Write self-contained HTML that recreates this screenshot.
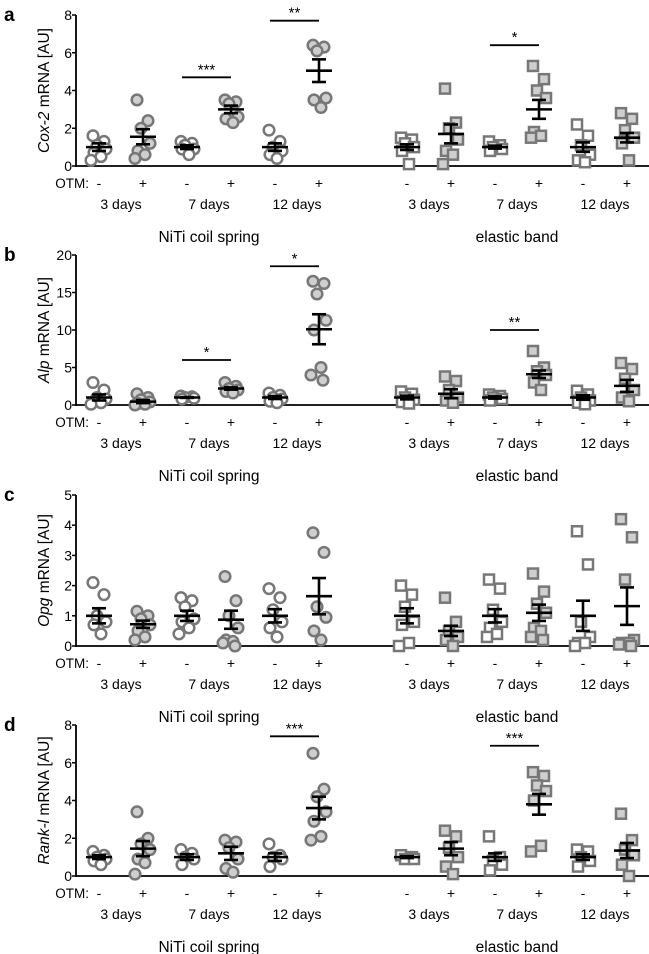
<!DOCTYPE html>
<html><head><meta charset="utf-8"><style>
html,body{margin:0;padding:0;background:#fff}
svg{display:block;font-family:"Liberation Sans",Arial,sans-serif}
</style></head><body>
<svg id="fig" width="649" height="954" viewBox="0 0 649 954" xmlns="http://www.w3.org/2000/svg"></svg>
<script>
const groupLabels = ["3 days","7 days","12 days"];
const otmLabels = ["-","+","-","+","-","+","-","+","-","+","-","+"];
const deviceLabels = ["NiTi coil spring","elastic band"];

const coxPoints = [
 [1.6,1.3,1.1,0.9,0.7,0.5,0.3],[3.5,2.4,2.0,1.2,0.8,0.6,0.4],[1.3,1.2,1.1,0.9,0.9,0.6],
 [3.5,3.4,3.3,2.6,2.5,2.3],[1.9,1.3,1.0,0.8,0.6,0.4],[6.4,6.3,6.1,3.6,3.5,3.1],
 [1.5,1.4,1.2,1.0,0.8,0.1],[4.1,2.3,2.0,1.4,0.8,0.6,0.1],[1.3,1.1,1.0,0.9,0.8],
 [5.3,4.6,4.0,3.6,1.8,1.6,1.5],[2.2,1.6,1.1,0.6,0.3,0.2],[2.8,2.5,1.9,1.5,1.2,0.3]];
const coxMean = [1.0,1.55,1.0,3.0,1.0,5.05,1.0,1.7,1.0,3.0,1.0,1.5];
const coxSem = [0.2,0.4,0.1,0.2,0.2,0.6,0.15,0.5,0.08,0.5,0.25,0.25];
const coxSig = [[2,3,4.7,"***"],[4,5,7.7,"**"],[8,9,6.4,"*"]];

const alpPoints = [
 [3.0,2.0,1.0,0.8,0.5,0.3,0.1],[1.5,1.0,0.7,0.4,0.2,0.1,0.0],[1.2,1.1,1.0,0.9,0.8],
 [3.0,2.5,2.2,2.0,1.8,1.6],[1.6,1.3,1.0,0.8,0.5,0.3],[16.5,16.2,14.8,11.3,10.0,5.0,4.0,3.3],
 [1.8,1.5,1.0,0.7,0.4,0.2],[3.8,3.2,2.0,1.0,0.6,0.3],[1.4,1.2,1.0,0.8,0.6],
 [7.2,5.0,4.5,4.0,3.0,2.0],[1.9,1.4,1.0,0.6,0.3,0.1],[5.6,4.8,3.5,2.0,1.0,0.5]];
const alpMean = [1.0,0.45,1.0,2.2,1.0,10.1,1.0,1.5,1.0,4.1,1.0,2.55];
const alpSem = [0.4,0.2,0.05,0.15,0.2,2.0,0.25,0.6,0.15,0.5,0.3,0.8];
const alpSig = [[2,3,6,"*"],[4,5,18.5,"*"],[8,9,10,"**"]];

const opgPoints = [
 [2.1,1.7,1.0,0.8,0.7,0.4],[1.15,1.0,0.9,0.7,0.5,0.3,0.2],[1.6,1.5,1.3,0.9,0.8,0.6,0.4],
 [2.3,1.5,1.0,0.6,0.2,0.15,0.1,0.0],[1.9,1.6,1.2,0.8,0.6,0.3],[3.75,3.1,1.3,0.95,0.5,0.2],
 [2.0,1.7,1.3,0.8,0.7,0.1,0.0],[1.6,0.8,0.5,0.3,0.2,0.0],[2.2,1.9,1.2,0.8,0.6,0.4,0.3],
 [2.4,1.8,1.4,1.1,0.6,0.5,0.3,0.2],[3.8,2.7,0.8,0.3,0.1,0.1,0.0],[4.2,3.6,2.2,0.2,0.1,0.1,0.05,0.0]];
const opgMean = [1.0,0.72,1.0,0.87,1.0,1.65,1.0,0.5,1.0,1.1,1.0,1.32];
const opgSem = [0.25,0.12,0.17,0.3,0.22,0.6,0.25,0.17,0.22,0.27,0.5,0.62];
const opgSig = [];

const rankPoints = [
 [1.3,1.1,1.0,0.9,0.8,0.6],[3.4,2.0,1.7,1.4,0.9,0.7,0.1],[1.4,1.2,1.0,0.9,0.6],
 [1.9,1.8,1.5,0.9,0.4,0.2],[1.7,1.1,1.0,0.9,0.5],[6.5,4.6,4.2,3.4,2.9,2.1,1.9],
 [1.1,1.0,0.9,0.9],[2.4,2.1,1.5,1.0,0.5,0.1],[2.1,1.0,0.8,0.6,0.3],
 [5.5,5.3,4.8,4.5,4.0,1.6,1.3],[1.4,1.3,1.0,0.8,0.5],[3.3,1.9,1.4,1.1,0.6,0.0]];
const rankMean = [1.0,1.45,1.0,1.2,1.0,3.6,1.0,1.45,1.0,3.8,1.0,1.35];
const rankSem = [0.1,0.4,0.15,0.35,0.2,0.6,0.05,0.35,0.2,0.55,0.15,0.4];
const rankSig = [[4,5,7.4,"***"],[8,9,6.9,"***"]];

const NS="http://www.w3.org/2000/svg";
const svg=document.getElementById('fig');
function mk(tag,attrs,parent,text){const e=document.createElementNS(NS,tag);for(const k in attrs)e.setAttribute(k,attrs[k]);if(text!==undefined)e.textContent=text;(parent||svg).appendChild(e);return e;}
const AXX=76;
function gx(i){return 99+i*44+(i>=6?44:0);}
const jit=[-6,5,-2,7,-5,2,-8,4];

const panels=[
 {letter:"a",name:"cox2",ital:"Cox-2",y0:166,top:15,max:8,step:2,pts:coxPoints,mean:coxMean,sem:coxSem,sig:coxSig},
 {letter:"b",name:"alp",ital:"Alp",y0:405,top:255,max:20,step:5,pts:alpPoints,mean:alpMean,sem:alpSem,sig:alpSig},
 {letter:"c",name:"opg",ital:"Opg",y0:646,top:495,max:5,step:1,pts:opgPoints,mean:opgMean,sem:opgSem,sig:opgSig},
 {letter:"d",name:"rankl",ital:"Rank-l",y0:876,top:725,max:8,step:2,pts:rankPoints,mean:rankMean,sem:rankSem,sig:rankSig}
];
panels.forEach(p=>{
 const g=mk('g',{});
 
 
 const H=p.y0-p.top;
 const y=v=>p.y0-v*H/p.max;
 const lt=mk('text',{x:4,y:p.top+6,'font-size':19,'font-weight':'bold'},g,p.letter);
 
 
 const ya=mk('line',{x1:AXX,y1:y(p.max),x2:AXX,y2:p.y0+1,stroke:'#000','stroke-width':1.8},g);
 
 
 const xa=mk('line',{x1:AXX,y1:p.y0,x2:649,y2:p.y0,stroke:'#000','stroke-width':1.8},g);
 
 
 for(let v=0;v<=p.max+1e-9;v+=p.step){
  mk('line',{x1:AXX-4,y1:y(v),x2:AXX,y2:y(v),stroke:'#000','stroke-width':1.5},g);
  const t=mk('text',{x:AXX-4,y:y(v)+5,'font-size':14,'text-anchor':'end'},g,String(v));
  
  
 }
 const yt=mk('text',{transform:`translate(49,${p.y0-H/2}) rotate(-90)`,'font-size':15.5,'text-anchor':'middle'},g);
 
 
 mk('tspan',{'font-style':'italic'},yt,p.ital);
 mk('tspan',{},yt,' mRNA [AU]');
 p.pts.forEach((arr,i)=>{
  const fill=(i%2===1)?'#cfcfcf':'#fff';
  const sq=i>=6;
  arr.forEach((v,k)=>{
   const cx=gx(i)+jit[k%jit.length], cy=y(v);
   let m;
   if(sq) m=mk('rect',{x:cx-5,y:cy-5,width:10,height:10,fill:fill,stroke:'#777','stroke-width':2.5},g);
   else m=mk('circle',{cx:cx,cy:cy,r:5.3,fill:fill,stroke:'#777','stroke-width':2.5},g);
   
   
  });
 });
 p.mean.forEach((m,i)=>{
  const cx=gx(i);
  const eb=mk('g',{stroke:'#000','stroke-width':2.6},g);
  
  
  mk('line',{x1:cx-13,x2:cx+13,y1:y(m),y2:y(m)},eb);
  mk('line',{x1:cx,x2:cx,y1:y(m-p.sem[i]),y2:y(m+p.sem[i])},eb);
  mk('line',{x1:cx-7,x2:cx+7,y1:y(m-p.sem[i]),y2:y(m-p.sem[i])},eb);
  mk('line',{x1:cx-7,x2:cx+7,y1:y(m+p.sem[i]),y2:y(m+p.sem[i])},eb);
 });
 p.sig.forEach(s=>{
  const x1=gx(s[0])-5,x2=gx(s[1])+0,yy=y(s[2]);
  const l=mk('line',{x1:x1,x2:x2,y1:yy,y2:yy,stroke:'#000','stroke-width':1.8},g);
  
  
  const t=mk('text',{x:(x1+x2)/2,y:yy-3,'font-size':15,'text-anchor':'middle'},g,s[3]);
  
  
 });
 const ot=mk('text',{x:89,y:p.y0+22,'font-size':13.5,'text-anchor':'end'},g,'OTM:');
 
 
 otmLabels.forEach((s,i)=>{
  const t=mk('text',{x:gx(i),y:p.y0+22,'font-size':14,'text-anchor':'middle'},g,s);
  
  
 });
 for(let d=0;d<2;d++){
  groupLabels.forEach((s,j)=>{
   const i=d*6+j*2;
   const t=mk('text',{x:(gx(i)+gx(i+1))/2,y:p.y0+43,'font-size':14,'text-anchor':'middle'},g,s);
   
   
  });
  const t=mk('text',{x:(gx(d*6)+gx(d*6+5))/2,y:p.y0+76,'font-size':15.5,'text-anchor':'middle'},g,deviceLabels[d]);
  
  
 }
});
</script>
</body></html>
